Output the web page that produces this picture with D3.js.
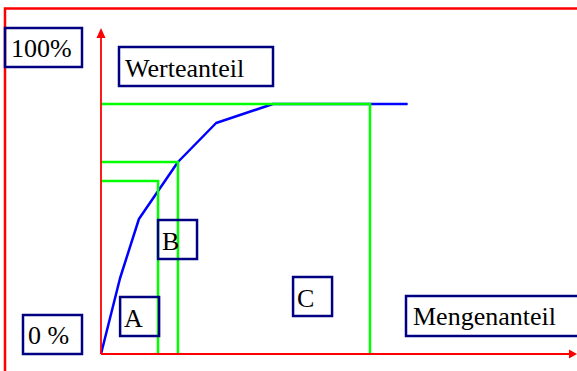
<!DOCTYPE html>
<html>
<head>
<meta charset="utf-8">
<script src="https://cdn.jsdelivr.net/npm/d3@7"></script>
<style>
  html, body { margin: 0; padding: 0; background: #fff; }
  svg { display: block; }
  text { font-family: "Liberation Serif", "DejaVu Serif", serif; font-size: 26px; fill: #000; }
</style>
</head>
<body>
<svg id="chart" width="577" height="371"></svg>
<script>
// ---- data (percent) ----
// cumulative value share (Werteanteil) vs quantity share (Mengenanteil)
const curveMenge = [0, 7.1, 14.1, 28.6, 42.8, 63.9, 114];
const curveWert  = [0, 30.4, 54.0, 76.8, 92.4, 100, 100];

// ABC class boundaries
const classNames = ["A", "B", "C"];
const classMenge = [21.2, 28.6, 100];
const classWert  = [69.2, 76.8, 100];

// axis labels
const yTopLabel = "100%";
const yBottomLabel = "0 %";
const yTitle = "Werteanteil";
const xTitle = "Mengenanteil";

// ---- layout ----
const svg = d3.select("#chart");
const x = d3.scaleLinear().domain([0, 100]).range([101, 370]);
const y = d3.scaleLinear().domain([0, 100]).range([354, 104]);

const red = "#ff0000", green = "#00ff00", blue = "#0000ff", navy = "#000080";

// outer red frame (top and left)
svg.append("path")
  .attr("d", "M5,371 L5,8.5 L577,8.5")
  .attr("fill", "none").attr("stroke", red).attr("stroke-width", 2.5);

// blue curve
const pts = curveMenge.map((m, i) => [m, curveWert[i]]);
svg.append("path")
  .datum(pts)
  .attr("d", d3.line().x(d => x(d[0])).y(d => y(d[1])))
  .attr("fill", "none").attr("stroke", blue).attr("stroke-width", 2.5)
  .attr("stroke-linejoin", "round");

// green class boundaries
classNames.forEach((c, i) => {
  svg.append("path")
    .attr("d", `M${x(0)},${y(classWert[i])} L${x(classMenge[i])},${y(classWert[i])} L${x(classMenge[i])},${y(0)}`)
    .attr("fill", "none").attr("stroke", green).attr("stroke-width", 2.5);
});

// red axes with arrows
const yAxisTop = 28, xAxisEnd = 577;
svg.append("line")
  .attr("x1", x(0)).attr("y1", y(0)).attr("x2", x(0)).attr("y2", yAxisTop + 8)
  .attr("stroke", red).attr("stroke-width", 1.8);
svg.append("path")
  .attr("d", `M${x(0)},${yAxisTop} L${x(0) - 4.5},${yAxisTop + 10} L${x(0) + 4.5},${yAxisTop + 10} Z`)
  .attr("fill", red);
svg.append("line")
  .attr("x1", x(0)).attr("y1", y(0)).attr("x2", xAxisEnd - 6).attr("y2", y(0))
  .attr("stroke", red).attr("stroke-width", 1.8);
svg.append("path")
  .attr("d", `M${xAxisEnd},${y(0)} L${xAxisEnd - 8},${y(0) - 4.5} L${xAxisEnd - 8},${y(0) + 4.5} Z`)
  .attr("fill", red);

// label boxes
function box(bx, by, w, h, label, tx, ty) {
  svg.append("rect")
    .attr("x", bx).attr("y", by).attr("width", w).attr("height", h)
    .attr("fill", "none").attr("stroke", navy).attr("stroke-width", 2.5);
  svg.append("text").attr("x", tx).attr("y", ty).text(label);
}

box(5, 28, 77, 39, yTopLabel, 11, 57);
box(23, 315, 59, 39, yBottomLabel, 28, 344);
box(119, 47, 154, 39, yTitle, 125, 77);
box(406, 296, 180, 40, xTitle, 413, 325);

// class letter boxes (positioned in data coordinates)
const classBoxMenge = [7.1, 21.2, 71.4];
const classBoxWert  = [22.8, 53.6, 30.8];
classNames.forEach((c, i) => {
  const bx = x(classBoxMenge[i]), by = y(classBoxWert[i]);
  box(bx, by, 39, 39, c, bx + 4, by + 30);
});
</script>
</body>
</html>
